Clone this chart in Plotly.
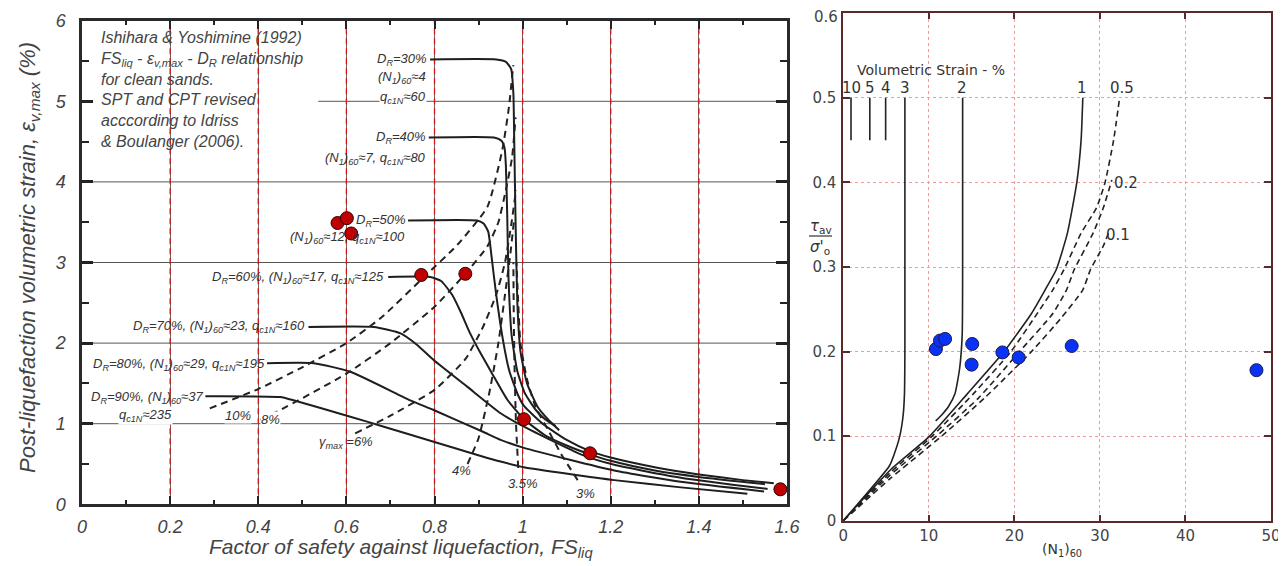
import plotly.graph_objects as go

# figure size (page body has an 8px margin, so the figure is offset by 8px)
FW, FH = 1278, 558
OFF = 8

def PX(x):
    return (x - OFF) / FW

def PY(y):
    return 1 - (y - OFF) / FH

# ---------------- Left panel data (FS_liq vs eps_v,max) ----------------
dr30_x = [0.79, 0.94, 0.962, 0.974, 0.979, 0.981, 0.984, 0.988, 0.995, 1.01, 1.035, 1.06, 1.083]
dr30_y = [5.52, 5.52, 5.49, 5.40, 5.1, 4.5, 3.5, 2.5, 1.9, 1.5, 1.2, 1.04, 0.92]
dr40_x = [0.787, 0.935, 0.952, 0.959, 0.962, 0.965, 0.968, 0.975, 0.988, 1.005, 1.03, 1.05, 1.075]
dr40_y = [4.55, 4.55, 4.51, 4.42, 4.2, 3.6, 2.8, 2.1, 1.65, 1.38, 1.17, 1.06, 0.97]
dr50_x = [0.74, 0.897, 0.912, 0.922, 0.93, 0.94, 0.955, 0.97, 0.99, 1.003, 1.05, 1.1, 1.153, 1.2, 1.3, 1.4, 1.5, 1.57]
dr50_y = [3.52, 3.52, 3.48, 3.38, 3.05, 2.6, 2.05, 1.65, 1.35, 1.22, 0.98, 0.80, 0.66, 0.58, 0.46, 0.37, 0.30, 0.26]
dr60_x = [0.695, 0.79, 0.815, 0.84, 0.86, 0.88, 0.905, 0.93, 0.965, 1.003, 1.05, 1.1, 1.153, 1.2, 1.3, 1.4, 1.55]
dr60_y = [2.82, 2.82, 2.77, 2.6, 2.38, 2.13, 1.87, 1.63, 1.3, 1.055, 0.86, 0.73, 0.62, 0.54, 0.42, 0.34, 0.25]
dr70_x = [0.514, 0.662, 0.723, 0.76, 0.798, 0.874, 0.95, 1.003, 1.132, 1.208, 1.359, 1.556]
dr70_y = [2.2, 2.2, 2.12, 1.98, 1.79, 1.46, 1.13, 0.963, 0.62, 0.49, 0.33, 0.19]
dr80_x = [0.42, 0.526, 0.609, 0.745, 0.798, 0.91, 0.95, 1.003, 1.208, 1.359, 1.548]
dr80_y = [1.75, 1.75, 1.645, 1.29, 1.17, 0.9, 0.8, 0.70, 0.42, 0.28, 0.16]
dr90_x = [0.28, 0.45, 0.48, 0.609, 0.685, 0.798, 0.905, 0.95, 1.003, 1.208, 1.359, 1.51]
dr90_y = [1.34, 1.33, 1.29, 1.087, 0.963, 0.777, 0.6, 0.53, 0.46, 0.30, 0.21, 0.13]

g10_x = [0.29, 0.4, 0.5, 0.6, 0.68, 0.776, 0.852, 0.92, 0.954, 0.969, 0.976, 0.979]
g10_y = [1.19, 1.43, 1.7, 2.0, 2.32, 2.82, 3.22, 3.69, 4.4, 4.93, 5.3, 5.45]
g8_x = [0.405, 0.45, 0.6, 0.7, 0.8, 0.87, 0.92, 0.945, 0.962, 0.976, 0.984]
g8_y = [1.05, 1.17, 1.62, 2.0, 2.45, 2.86, 3.2, 3.5, 3.9, 4.3, 4.8]
g6_x = [0.62, 0.7, 0.8, 0.87, 0.91, 0.94, 0.96, 0.975, 0.985]
g6_y = [0.88, 1.1, 1.42, 1.8, 2.2, 2.6, 3.0, 3.5, 3.9]
g4_x = [0.875, 0.9, 0.925, 0.945, 0.96, 0.972, 0.98]
g4_y = [0.5, 0.82, 1.4, 2.0, 2.6, 3.1, 3.5]
g35_x = [0.99, 0.985, 0.982, 0.98, 0.979]
g35_y = [0.45, 1.0, 1.6, 2.3, 3.0]
g3_x = [1.125, 1.09, 1.06, 1.03, 1.01, 0.995, 0.99, 0.986]
g3_y = [0.3, 0.6, 0.9, 1.2, 1.55, 2.0, 2.5, 3.0]

red_x = [0.580, 0.601, 0.611, 0.770, 0.870, 1.003, 1.153, 1.585]
red_y = [3.49, 3.55, 3.36, 2.845, 2.86, 1.055, 0.633, 0.186]

left_xticks = [0, 0.2, 0.4, 0.6, 0.8, 1.0, 1.2, 1.4, 1.6]
left_xlabels = ["0", "0.2", "0.4", "0.6", "0.8", "1", "1.2", "1.4", "1.6"]
left_yticks = [0, 1, 2, 3, 4, 5, 6]

# ---------------- Right panel data ((N1)60 vs tau/sigma) ----------------
c3_x = [7.2, 7.2, 7.15, 7.0, 6.6, 6.0, 5.4, 0]
c3_y = [0.5, 0.2, 0.15, 0.125, 0.1, 0.08, 0.065, 0]
c2_x = [13.95, 13.95, 13.9, 13.6, 13.05, 12.3, 11.5, 10.8]
c2_y = [0.5, 0.3, 0.22, 0.18, 0.15, 0.135, 0.125, 0.118]
c1_x = [0, 5.5, 10.1, 14.5, 18.8, 22.0, 23.6, 24.9, 26.2, 27.3, 27.8, 28.0]
c1_y = [0, 0.06, 0.1, 0.15, 0.2, 0.245, 0.273, 0.297, 0.34, 0.4, 0.45, 0.5]
c05_x = [0, 5.5, 10.4, 15.2, 19.6, 23.0, 24.5, 25.8, 27.8, 29.6, 30.6, 31.6, 32.3]
c05_y = [0, 0.057, 0.1, 0.15, 0.2, 0.25, 0.273, 0.297, 0.34, 0.37, 0.4, 0.45, 0.5]
c02_x = [0, 5.5, 10.9, 15.8, 20.6, 24.5, 26.1, 27.0, 29.2, 30.4, 31.4]
c02_y = [0, 0.054, 0.1, 0.145, 0.2, 0.245, 0.273, 0.297, 0.34, 0.37, 0.403]
c01_x = [0, 5.5, 11.5, 16.5, 22.0, 25.5, 28.0, 28.9, 30.4, 31.0]
c01_y = [0, 0.05, 0.1, 0.145, 0.2, 0.24, 0.273, 0.297, 0.325, 0.34]
short_x = [0.9, 3.1, 4.95]

blue_x = [10.83, 11.3, 11.9, 15.07, 15.0, 18.6, 20.5, 26.7, 48.3]
blue_y = [0.203, 0.213, 0.215, 0.209, 0.1845, 0.199, 0.193, 0.2066, 0.178]

strain_labels = ["10", "5", "4", "3", "2", "1", "0.5"]
strain_label_x = [1.0, 3.1, 5.0, 7.2, 13.9, 27.9, 32.6]

right_xticks = [0, 10, 20, 30, 40, 50]
right_yticks = [0, 0.1, 0.2, 0.3, 0.4, 0.5, 0.6]
right_ylabels = ["0", "0.1", "0.2", "0.3", "0.4", "0.5", ""]
right_top_label = "0.6"

fig = go.Figure()

def line(x, y, xa, ya, dash="solid", width=2.0, color="#1e1e1e"):
    fig.add_trace(go.Scatter(x=x, y=y, xaxis=xa, yaxis=ya, mode="lines",
                             line=dict(color=color, width=width, dash=dash,
                                       shape="spline", smoothing=0.5),
                             hoverinfo="skip", showlegend=False))

for xs, ys in [(dr30_x, dr30_y), (dr40_x, dr40_y), (dr50_x, dr50_y), (dr60_x, dr60_y),
               (dr70_x, dr70_y), (dr80_x, dr80_y), (dr90_x, dr90_y)]:
    line(xs, ys, "x", "y")
for xs, ys in [(g10_x, g10_y), (g8_x, g8_y), (g6_x, g6_y), (g4_x, g4_y),
               (g35_x, g35_y), (g3_x, g3_y)]:
    line(xs, ys, "x", "y", dash="7px,5px", width=2.0, color="#222")

fig.add_trace(go.Scatter(x=red_x, y=red_y, xaxis="x", yaxis="y", mode="markers",
                         marker=dict(size=13, color="#c00000", line=dict(color="#2a0000", width=1)),
                         hoverinfo="skip", showlegend=False))

# right panel
line(c3_x, c3_y, "x2", "y2", width=1.6, color="#222")
line(c2_x, c2_y, "x2", "y2", width=1.6, color="#222")
line(c1_x, c1_y, "x2", "y2", width=1.6, color="#222")
for xs, ys in [(c05_x, c05_y), (c02_x, c02_y), (c01_x, c01_y)]:
    line(xs, ys, "x2", "y2", dash="6px,4px", width=1.6, color="#222")
for sx in short_x:
    fig.add_trace(go.Scatter(x=[sx, sx], y=[0.5, 0.45], xaxis="x2", yaxis="y2", mode="lines",
                             line=dict(color="#222", width=1.6), hoverinfo="skip", showlegend=False))

fig.add_trace(go.Scatter(x=blue_x, y=blue_y, xaxis="x2", yaxis="y2", mode="markers",
                         marker=dict(size=13, color="#0a32f5", line=dict(color="#1a1a50", width=1)),
                         hoverinfo="skip", showlegend=False))

# ---------------- shapes ----------------
shapes = []
for yv in [1, 2, 3, 4]:
    shapes.append(dict(type="line", xref="x", yref="y", x0=0, x1=1.6, y0=yv, y1=yv,
                       line=dict(color="#555", width=1), layer="between"))
shapes.append(dict(type="line", xref="x", yref="y", x0=0.536, x1=1.6, y0=5, y1=5,
                   line=dict(color="#555", width=1), layer="between"))
for xv in [0.2, 0.4, 0.6, 0.8, 1.0, 1.2, 1.4]:
    shapes.append(dict(type="line", xref="x", yref="y", x0=xv, x1=xv, y0=0, y1=6,
                       line=dict(color="#e01010", width=1.3, dash="6px,4px"), layer="between"))
# fraction bar of right y title
shapes.append(dict(type="line", xref="paper", yref="paper", x0=PX(809), x1=PX(832),
                   y0=PY(236), y1=PY(236), line=dict(color="#333", width=1.2)))

# ---------------- annotations ----------------
ann = []
lf = dict(family="Liberation Sans", size=13, color="#333", style="italic")

def la(text, x, y, xanchor="left", bg=None, size=13):
    d = dict(text=text, x=x, y=y, xref="x", yref="y", xanchor=xanchor, yanchor="middle",
             showarrow=False, font=dict(lf, size=size), borderpad=0)
    if bg:
        d["bgcolor"] = bg
    ann.append(d)

ann.append(dict(text="Ishihara & Yoshimine (1992)<br>FS<sub>liq</sub> - ε<sub>v,max</sub> - D<sub>R</sub> relationship"
                     "<br>for clean sands.<br>SPT and CPT revised<br>acccording to Idriss<br>& Boulanger (2006).",
                x=0.038, y=5.92, xref="x", yref="y", xanchor="left", yanchor="top", align="left",
                showarrow=False, font=dict(family="Liberation Sans", size=16, color="#444", style="italic")))

la("D<sub>R</sub>=30%", 0.785, 5.52, "right")
la("(N<sub>1</sub>)<sub>60</sub>≈4", 0.782, 5.29, "right")
la("q<sub>c1N</sub>≈60", 0.782, 5.05, "right", bg="white")
la("D<sub>R</sub>=40%", 0.782, 4.55, "right")
la("(N<sub>1</sub>)<sub>60</sub>≈7, q<sub>c1N</sub>≈80", 0.782, 4.29, "right")
la("D<sub>R</sub>=50%", 0.62, 3.52, "left")
la("(N<sub>1</sub>)<sub>60</sub>≈12, q<sub>c1N</sub>≈100", 0.735, 3.31, "right")
la("D<sub>R</sub>=60%, (N<sub>1</sub>)<sub>60</sub>≈17, q<sub>c1N</sub>≈125", 0.687, 2.82, "right")
la("D<sub>R</sub>=70%, (N<sub>1</sub>)<sub>60</sub>≈23, q<sub>c1N</sub>≈160", 0.509, 2.2, "right")
la("D<sub>R</sub>=80%, (N<sub>1</sub>)<sub>60</sub>≈29, q<sub>c1N</sub>≈195", 0.417, 1.74, "right")
la("D<sub>R</sub>=90%, (N<sub>1</sub>)<sub>60</sub>≈37", 0.277, 1.33, "right")
la("q<sub>c1N</sub>≈235", 0.145, 1.1, "center", bg="white")
la("10%", 0.353, 1.1, "center", bg="white")
la("8%", 0.428, 1.05, "center", bg="white")
la("γ<sub>max</sub> =6%", 0.6, 0.77, "center")
la("4%", 0.862, 0.42, "center")
la("3.5%", 1.0, 0.26, "center")
la("3%", 1.143, 0.14, "center")

# axis titles left
ann.append(dict(text="Post-liquefaction volumetric strain, ε<sub>v,max</sub> (%)", textangle=-90,
                x=PX(29), y=PY(258), xref="paper", yref="paper", xanchor="center", yanchor="middle",
                showarrow=False, font=dict(family="Liberation Sans", size=22, color="#444", style="italic")))
ann.append(dict(text="Factor of safety against liquefaction, FS<sub>liq</sub>",
                x=PX(401), y=PY(548), xref="paper", yref="paper", xanchor="center", yanchor="middle",
                showarrow=False, font=dict(family="Liberation Sans", size=21, color="#444", style="italic")))

# right panel labels
rf = dict(family="DejaVu Sans", size=14, color="#333")
tick_r = dict(family="DejaVu Sans", size=15, color="#444")
ann.append(dict(text=right_top_label, x=PX(840), y=PY(17), xref="paper", yref="paper",
                showarrow=False, font=tick_r, xanchor="right", yanchor="middle"))
ann.append(dict(text="Volumetric Strain - %", x=10.2, y=0.533, xref="x2", yref="y2",
                showarrow=False, font=rf, xanchor="center", yanchor="middle"))
for t, xv in zip(strain_labels, strain_label_x):
    ann.append(dict(text=t, x=xv, y=0.512, xref="x2", yref="y2", showarrow=False,
                    font=dict(rf, size=15), xanchor="center", yanchor="middle"))
ann.append(dict(text="0.2", x=33.0, y=0.399, xref="x2", yref="y2", showarrow=False,
                font=dict(rf, size=15), xanchor="center", yanchor="middle"))
ann.append(dict(text="0.1", x=32.1, y=0.338, xref="x2", yref="y2", showarrow=False,
                font=dict(rf, size=15), xanchor="center", yanchor="middle"))
ann.append(dict(text="<i>τ</i><sub>av</sub>", x=PX(821), y=PY(226), xref="paper", yref="paper",
                showarrow=False, font=dict(rf, size=15), xanchor="center", yanchor="middle"))
ann.append(dict(text="<i>σ'</i><sub>o</sub>", x=PX(820), y=PY(247), xref="paper", yref="paper",
                showarrow=False, font=dict(rf, size=15), xanchor="center", yanchor="middle"))
ann.append(dict(text="(N<sub>1</sub>)<sub>60</sub>", x=PX(1062), y=PY(550), xref="paper", yref="paper",
                showarrow=False, font=dict(rf, size=14), xanchor="center", yanchor="middle"))

tick_l = dict(family="Liberation Sans", size=18, color="#444", style="italic")

fig.update_layout(
    width=FW, height=FH,
    margin=dict(l=0, r=0, t=0, b=0, autoexpand=False),
    paper_bgcolor="white", plot_bgcolor="white",
    template="none",
    showlegend=False,
    xaxis=dict(domain=[PX(82), PX(787)], range=[0, 1.6], tickvals=left_xticks, ticktext=left_xlabels,
               anchor="y", ticks="inside", ticklen=9, tickwidth=2, tickcolor="#222",
               minor=dict(dtick=0.1, ticks="inside", ticklen=5, tickwidth=2, tickcolor="#222", showgrid=False),
               showline=True, linewidth=2.5, linecolor="#2a2a2a", mirror="ticks",
               showgrid=True, gridcolor="#666", gridwidth=1, zeroline=False,
               tickfont=tick_l, ticklabelstandoff=4, ticklabeloverflow="allow"),
    yaxis=dict(domain=[PY(504.3), PY(20.7)], range=[0, 6], tickvals=left_yticks, anchor="x",
               ticks="inside", ticklen=11, tickwidth=2.5, tickcolor="#222",
               minor=dict(dtick=0.5, ticks="inside", ticklen=7, tickwidth=2, tickcolor="#222", showgrid=False),
               showline=True, linewidth=2.5, linecolor="#2a2a2a", mirror="ticks",
               showgrid=False, zeroline=False, tickfont=tick_l, ticklabelstandoff=10,
               ticklabeloverflow="allow"),
    xaxis2=dict(domain=[PX(843.3), PX(1271)], range=[0, 50], tickvals=right_xticks, anchor="y2",
                ticks="inside", ticklen=6, tickwidth=1.5, tickcolor="#5a2a2a",
                showline=True, linewidth=2, linecolor="#5a2a2a", mirror="ticks",
                showgrid=True, gridcolor="#f29a9a", griddash="dot", gridwidth=1, zeroline=False,
                tickfont=tick_r, ticklabelstandoff=0, ticklabeloverflow="allow"),
    yaxis2=dict(domain=[PY(520.7), PY(13.3)], range=[0, 0.6], tickvals=right_yticks, ticktext=right_ylabels,
                anchor="x2", ticks="inside", ticklen=7, tickwidth=1.5, tickcolor="#5a2a2a",
                showline=True, linewidth=2, linecolor="#5a2a2a", mirror="ticks",
                showgrid=True, gridcolor="#f29a9a", griddash="dot", gridwidth=1, zeroline=False,
                tickfont=tick_r, ticklabelstandoff=2, ticklabeloverflow="allow"),
    shapes=shapes,
    annotations=ann,
)

fig.write_html("out.html")
